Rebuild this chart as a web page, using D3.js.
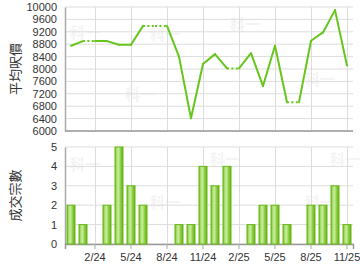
<!DOCTYPE html>
<html>
<head>
<meta charset="utf-8">
<script src="https://cdn.jsdelivr.net/npm/d3@7"></script>
<style>
  html, body { margin: 0; padding: 0; background: #fff; }
  svg { display: block; font-family: "Liberation Sans", Arial, sans-serif; }
  .tick text { fill: #333; font-size: 11px; }
  .ytitle { font-family: "Noto Sans CJK TC", sans-serif; font-size: 13px; fill: #333; }
</style>
</head>
<body>
<div id="chart"></div>
<script>
// Monthly series, 12/23 .. 11/25
const MONTHS = [
    "12/23", "1/24", "2/24", "3/24", "4/24", "5/24", "6/24", "7/24", "8/24", "9/24", "10/24", "11/24",
    "12/24", "1/25", "2/25", "3/25", "4/25", "5/25", "6/25", "7/25", "8/25", "9/25", "10/25", "11/25",
];
// Average price per sq ft; null = no transactions that month (carried forward, dotted)
const PRICES = [
    8750, 8900, null, 8900, 8780, 8780, 9390, null, null, 8400, 6410, 8160,
    8480, 8020, null, 8510, 7450, 8750, 6930, null, 8910, 9180, 9900, 8110,
];
const COUNTS = [2, 1, 0, 2, 5, 3, 2, 0, 0, 1, 1, 4, 3, 4, 0, 1, 2, 2, 1, 0, 2, 2, 3, 1];
const X_TICKS = ["2/24", "5/24", "8/24", "11/24", "2/25", "5/25", "8/25", "11/25"];
const PRICE_TICKS = [6000, 6400, 6800, 7200, 7600, 8000, 8400, 8800, 9200, 9600, 10000];
const COUNT_TICKS = [0, 1, 2, 3, 4, 5];

const W = 360, H = 270;
const LEFT = 65, RIGHT = 353;
const TOP1 = { top: 7, bottom: 131 };
const BOT = { top: 147, bottom: 244 };

const svg = d3.select("#chart").append("svg")
    .attr("width", W).attr("height", H);

const defs = svg.append("defs");
const grad = defs.append("linearGradient")
    .attr("id", "barGrad").attr("x1", "0").attr("x2", "1").attr("y1", "0").attr("y2", "0");
[["0%", "#6fbf1c"], ["25%", "#b6e383"], ["45%", "#c4ea97"], ["70%", "#8fcf45"], ["100%", "#5fae10"]]
    .forEach(([o, c]) => grad.append("stop").attr("offset", o).attr("stop-color", c));

const x = d3.scaleBand()
    .domain(MONTHS)
    .range([LEFT, RIGHT])
    .paddingInner(0.25)
    .paddingOuter(0.125);
const cx = (m) => x(m) + x.bandwidth() / 2;

const yP = d3.scaleLinear().domain([6000, 10000]).range([TOP1.bottom, TOP1.top]);
const yC = d3.scaleLinear().domain([0, 5]).range([BOT.bottom, BOT.top]);

// Faint watermark
const wm = [[70, 38], [150, 40], [125, 100], [230, 30], [305, 85], [70, 170], [150, 208], [210, 165], [305, 208], [330, 165]];
svg.append("g").selectAll("text").data(wm).join("text")
    .attr("x", (d) => d[0]).attr("y", (d) => d[1])
    .attr("font-family", "Noto Sans CJK TC").attr("font-size", 15).attr("font-weight", "bold")
    .attr("fill", "#f4f4f4").text("科一");

// Grids (both panels)
function drawGrid(y, ticks, top, bottom) {
    const g = svg.append("g");
    g.selectAll("line.h").data(ticks).join("line")
        .attr("x1", LEFT).attr("x2", RIGHT)
        .attr("y1", (d) => y(d)).attr("y2", (d) => y(d))
        .attr("stroke", "#dcdcdc");
    g.selectAll("line.v").data(X_TICKS).join("line")
        .attr("x1", (d) => cx(d) + 0.5).attr("x2", (d) => cx(d) + 0.5)
        .attr("y1", top).attr("y2", bottom)
        .attr("stroke", "#dcdcdc");
}
drawGrid(yP, PRICE_TICKS, TOP1.top, TOP1.bottom);
drawGrid(yC, COUNT_TICKS, BOT.top, BOT.bottom);

// Y axes
const yAxisP = svg.append("g")
    .attr("transform", `translate(${LEFT},0)`)
    .call(d3.axisLeft(yP).tickValues(PRICE_TICKS).tickFormat(d3.format("d")).tickSize(0).tickPadding(8));
yAxisP.select(".domain").attr("stroke", "#aaa").attr("stroke-width", 1.5);

const yAxisC = svg.append("g")
    .attr("transform", `translate(${LEFT},0)`)
    .call(d3.axisLeft(yC).tickValues(COUNT_TICKS).tickFormat(d3.format("d")).tickSize(0).tickPadding(8));
yAxisC.select(".domain").attr("stroke", "#aaa").attr("stroke-width", 1.5);

// Bottom axis lines
svg.append("line")
    .attr("x1", LEFT).attr("x2", RIGHT)
    .attr("y1", TOP1.bottom).attr("y2", TOP1.bottom)
    .attr("stroke", "#999").attr("stroke-width", 1.5);

const xAxis = svg.append("g")
    .attr("transform", `translate(0,${BOT.bottom})`)
    .call(d3.axisBottom(x).tickValues(X_TICKS).tickSize(5).tickPadding(3));
xAxis.select(".domain").attr("stroke", "#999").attr("stroke-width", 1.5);
xAxis.selectAll(".tick line").attr("stroke", "#aaa");
xAxis.selectAll(".tick text").attr("dy", "0.85em");

// Bars
svg.append("g").selectAll("rect").data(MONTHS.map((m, i) => ({ m, v: COUNTS[i] })).filter((d) => d.v > 0))
    .join("rect")
    .attr("x", (d) => x(d.m) + 0.5)
    .attr("y", (d) => yC(d.v))
    .attr("width", x.bandwidth() - 1)
    .attr("height", (d) => yC(0) - yC(d.v))
    .attr("fill", "url(#barGrad)")
    .attr("stroke", "#66b914").attr("stroke-width", 1);

// Price line: gaps carry previous value forward (dotted), then solid into the next real point
const pts = [];
let last = null;
MONTHS.forEach((m, i) => {
    const real = PRICES[i] != null;
    if (real) last = PRICES[i];
    pts.push({ m, v: last, real });
});
const segs = [];
for (let i = 1; i < pts.length; i++) {
    segs.push({ a: pts[i - 1], b: pts[i], dotted: !pts[i].real });
}
const line = d3.line().x((d) => cx(d.m)).y((d) => yP(d.v));
svg.append("g").selectAll("path").data(segs).join("path")
    .attr("d", (d) => line([d.a, d.b]))
    .attr("fill", "none")
    .attr("stroke", "#66c61c")
    .attr("stroke-width", 2)
    .attr("stroke-linecap", (d) => d.dotted ? "butt" : "round")
    .attr("stroke-dasharray", (d) => d.dotted ? "2,2.4" : null);

// Axis titles
svg.append("text").attr("class", "ytitle")
    .attr("transform", `translate(20,${(TOP1.top + TOP1.bottom) / 2}) rotate(-90)`)
    .attr("text-anchor", "middle").text("平均呎價");
svg.append("text").attr("class", "ytitle")
    .attr("transform", `translate(20,${(BOT.top + BOT.bottom) / 2}) rotate(-90)`)
    .attr("text-anchor", "middle").text("成交宗數");
</script>
</body>
</html>
